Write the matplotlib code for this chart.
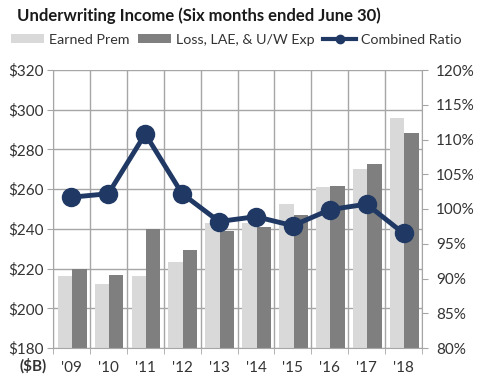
import numpy as np
import matplotlib.pyplot as plt

plt.rcParams['font.family'] = ['Lato', 'DejaVu Sans']

years = ["'09", "'10", "'11", "'12", "'13", "'14", "'15", "'16", "'17", "'18"]
earned_prem = [216.5, 212.0, 216.5, 223.5, 243.0, 243.0, 252.4, 261.2, 270.0, 295.8]
loss_exp = [219.7, 216.6, 240.0, 229.6, 238.8, 241.0, 247.0, 261.5, 272.8, 288.4]
combined_ratio = [101.7, 102.2, 110.8, 102.2, 98.2, 98.9, 97.6, 99.9, 100.7, 96.5]

light = '#d9d9d9'
dark = '#7f7f7f'
navy = '#1f3864'
grid = '#a6a6a6'

fig = plt.figure(figsize=(4.82, 3.86), dpi=100)
ax = fig.add_axes([53/482, 1 - 348/386, 369/482, 278/386])
ax2 = ax.twinx()

x = np.arange(len(years))
w = 0.39
ax.bar(x - w/2 + 0.02, earned_prem, w, color=light, zorder=2, label='Earned Prem')
ax.bar(x + w/2 + 0.02, loss_exp, w, color=dark, zorder=2, label='Loss, LAE, & U/W Exp')
ax.set_ylim(180, 320)
ax.set_xlim(-0.5, len(years) - 0.5)
ax.set_yticks(range(180, 321, 20))
ax.set_yticklabels(['$%d' % v for v in range(180, 321, 20)])
ax.set_xticks(x)
ax.set_xticklabels(years)
ax.set_xticks(np.arange(-0.5, len(years)), minor=True)
ax.grid(True, axis='y', color=grid, lw=1, zorder=0)
ax.grid(True, axis='x', which='minor', color=grid, lw=1, zorder=0)
ax.tick_params(axis='x', which='major', length=0, pad=9, labelsize=11, colors='#333333')
ax.tick_params(axis='x', which='minor', length=4, color=grid)
ax.tick_params(axis='y', length=4, color=grid, labelsize=11, labelcolor='#333333', pad=3)

ax2.plot(x, combined_ratio, '-o', color=navy, lw=3.5, ms=13, zorder=5, label='Combined Ratio')
ax2.set_ylim(80, 120)
ax2.set_yticks(range(80, 121, 5))
ax2.set_yticklabels(['%d%%' % v for v in range(80, 121, 5)])
ax2.tick_params(axis='y', length=4, color=grid, labelsize=11, labelcolor='#333333', pad=6)

for a in (ax, ax2):
    for s in a.spines.values():
        s.set_visible(False)
ax.spines['left'].set_visible(True)
ax.spines['left'].set_color(grid)
ax.spines['bottom'].set_visible(True)
ax.spines['bottom'].set_color(grid)
ax2.spines['right'].set_visible(True)
ax2.spines['right'].set_color(grid)

fig.text(17/482, 1 - 16/386, 'Underwriting Income (Six months ended June 30)',
         fontsize=12, fontweight='bold', va='center', ha='left', color='#1a1a1a')
fig.text(20/482, 1 - 366/386, '($B)', fontsize=11, fontweight='bold', va='center', ha='left',
         color='#333333')

h1, l1 = ax.get_legend_handles_labels()
h2, l2 = ax2.get_legend_handles_labels()
leg = fig.legend(h1 + h2, l1 + l2, loc='center left', bbox_to_anchor=(11/482, 1 - 40/386),
                 ncol=3, frameon=False, fontsize=10.3, handlelength=2.3, handleheight=0.6,
                 columnspacing=0.6, handletextpad=0.35, borderaxespad=0, borderpad=0,
                 labelcolor='#333333')
leg.legend_handles[2].set_markersize(6)
leg.legend_handles[2].set_linewidth(3)

fig.savefig('out.png', dpi=100)
